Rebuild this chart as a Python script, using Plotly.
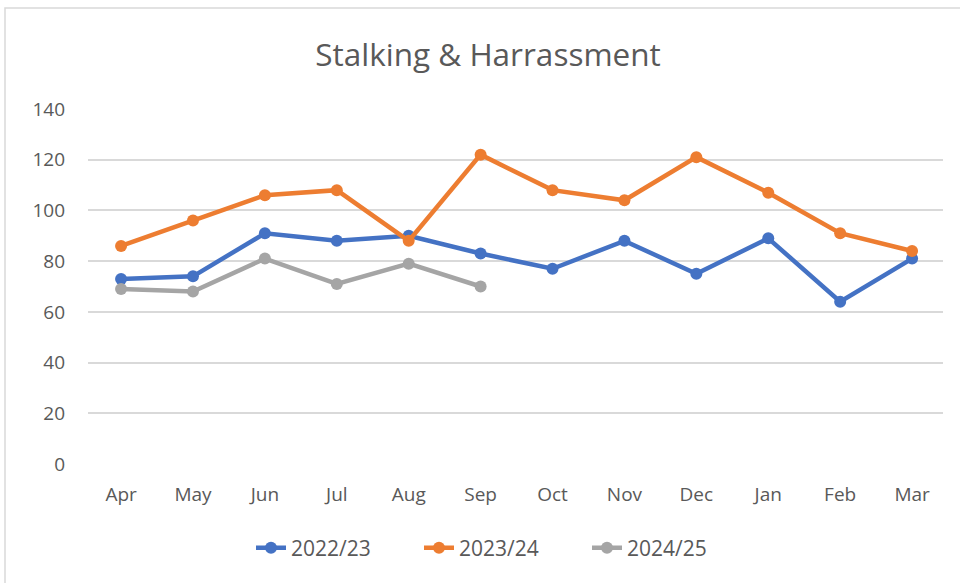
import plotly.graph_objects as go

months = ["Apr", "May", "Jun", "Jul", "Aug", "Sep", "Oct", "Nov", "Dec", "Jan", "Feb", "Mar"]
fy_2022_23 = [73, 74, 91, 88, 90, 83, 77, 88, 75, 89, 64, 81]
fy_2023_24 = [86, 96, 106, 108, 88, 122, 108, 104, 121, 107, 91, 84]
fy_2024_25 = [69, 68, 81, 71, 79, 70]

series = [
    ("2022/23", fy_2022_23, "#4472C4"),
    ("2023/24", fy_2023_24, "#ED7D31"),
    ("2024/25", fy_2024_25, "#A5A5A5"),
]

FONT = "'Open Sans', sans-serif"

fig = go.Figure()
for name, vals, col in series:
    fig.add_trace(go.Scatter(
        x=months[:len(vals)], y=vals, name=name, mode="lines+markers",
        line=dict(color=col, width=4.5),
        marker=dict(color=col, size=12),
    ))

W, H = 960, 583
L, R, T, B = 88, 17, 109, 119
pw, ph = W - L - R, H - T - B

fig.update_layout(
    width=W, height=H,
    margin=dict(l=L, r=R, t=T, b=B),
    paper_bgcolor="white", plot_bgcolor="white",
    title=dict(text="Stalking & Harrassment", x=488 / W, xanchor="center",
               y=1 - 55 / H, yanchor="middle",
               font=dict(family=FONT, size=31.5, color="#595959")),
    font=dict(family=FONT, color="#595959"),
    xaxis=dict(
        type="category", categoryorder="array", categoryarray=months,
        range=[-0.46, 11.43], showgrid=False, zeroline=False, showline=False,
        tickfont=dict(size=19, color="#595959"), ticks="", ticklabelstandoff=17,
    ),
    yaxis=dict(
        range=[0, 140], dtick=20, showgrid=True, gridcolor="#D9D9D9", gridwidth=1.5,
        zeroline=False, showline=False, ticks="",
        tickfont=dict(size=19, color="#595959"), ticklabelstandoff=22,
    ),
    legend=dict(orientation="h", x=(503 - L) / pw, xanchor="center",
                y=-(548 - (T + ph)) / ph, yanchor="middle",
                font=dict(size=21, color="#595959"),
                entrywidth=123, entrywidthmode="pixels",
                tracegroupgap=0),
    showlegend=True,
    hovermode=False,
    shapes=[dict(type="rect", xref="paper", yref="paper",
                 x0=(5 - L) / pw, x1=(975 - L) / pw,
                 y0=-(600 - (T + ph)) / ph, y1=(T + ph - 8) / ph,
                 line=dict(color="#D9D9D9", width=1.5), fillcolor="rgba(0,0,0,0)",
                 layer="below")],
)

fig.write_html("out.html", config={"displayModeBar": False},
               post_script="document.body.style.margin='0';document.body.style.overflow='hidden';")
